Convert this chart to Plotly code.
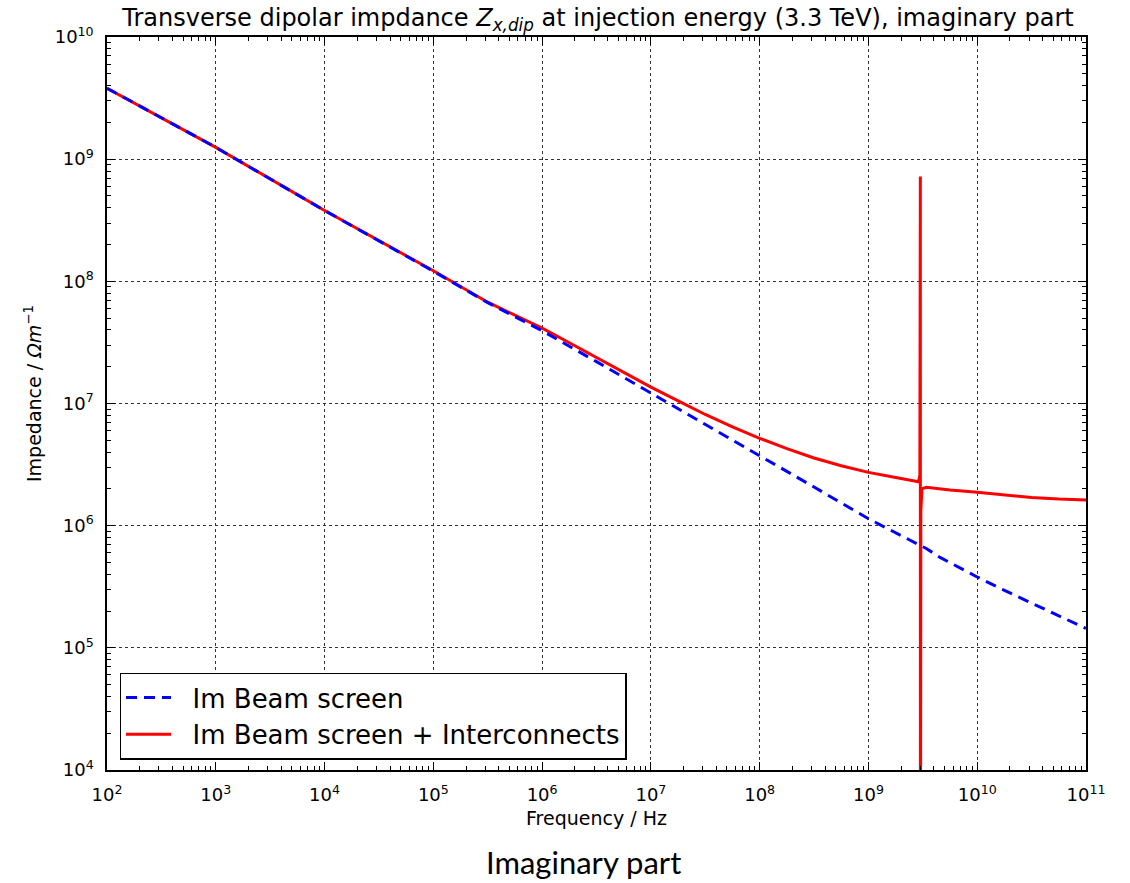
import plotly.graph_objects as go

# Frequencies (Hz) and imaginary impedance (Ohm/m)
freq_bs = [1e2, 1e3, 1e4, 1e5, 3.16e5, 1e6, 3.16e6, 1e7, 3.16e7, 1e8, 3.16e8,
           1e9, 3.4e9, 4.6e9, 1e10, 1.78e10, 3.16e10, 5.62e10, 1e11]
im_bs = [3.81e9, 1.25e9, 3.8e8, 1.21e8, 6.7e7, 3.94e7, 2.2e7, 1.22e7, 6.73e6,
         3.78e6, 2.07e6, 1.14e6, 6.5e5, 5.47e5, 3.8e5, 2.95e5, 2.32e5, 1.83e5, 1.44e5]

freq_ic = [1e2, 1e3, 1e4, 1e5, 3.16e5, 5.62e5, 1e6, 1.78e6, 3.16e6, 5.62e6,
           1e7, 1.78e7, 3.16e7, 5.62e7, 1e8, 1.78e8, 3.16e8, 5.62e8, 1e9,
           1.78e9, 2.63e9, 2.88e9, 2.97e9, 3.0e9, 3.005e9, 3.03e9, 3.1e9,
           3.4e9, 4.6e9, 5.62e9, 1e10, 1.78e10, 3.16e10, 5.62e10, 1e11]
im_ic = [3.81e9, 1.25e9, 3.8e8, 1.22e8, 6.75e7, 5.3e7, 4.14e7, 3.14e7, 2.38e7,
         1.8e7, 1.36e7, 1.05e7, 8.13e6, 6.45e6, 5.19e6, 4.27e6, 3.58e6, 3.09e6,
         2.73e6, 2.48e6, 2.3e6, 2.29e6, 2.6e6, 7.2e8, 1e2, 1.3e6, 2.0e6,
         2.06e6, 2.0e6, 1.96e6, 1.88e6, 1.78e6, 1.7e6, 1.65e6, 1.62e6]

series_names = ["Im Beam screen", "Im Beam screen + Interconnects"]

x_ticks = [1e2, 1e3, 1e4, 1e5, 1e6, 1e7, 1e8, 1e9, 1e10, 1e11]
x_labels = ["10<sup>%d</sup>" % e for e in range(2, 12)]
y_ticks = [1e4, 1e5, 1e6, 1e7, 1e8, 1e9, 1e10]
y_labels = ["10<sup>%d</sup>" % e for e in range(4, 11)]

x_minor = [m * 10 ** e for e in range(2, 11) for m in range(2, 10)]
y_minor = [m * 10 ** e for e in range(4, 10) for m in range(2, 10)]

FONT = "DejaVu Sans"
PAD = "\u00a0\u00a0"

fig = go.Figure()
fig.add_trace(go.Scatter(
    x=freq_ic, y=im_ic, mode="lines", name=PAD + series_names[1],
    line=dict(color="#ff0000", width=3), legendrank=2,
))
fig.add_trace(go.Scatter(
    x=freq_bs, y=im_bs, mode="lines", name=PAD + series_names[0],
    line=dict(color="#0000ff", width=3, dash="11px,7px"), legendrank=1,
))


def axis(tv, tt, rng, mv):
    return dict(
        type="log", range=rng,
        tickmode="array", tickvals=tv, ticktext=tt,
        showline=True, linecolor="black", linewidth=1.5, mirror="allticks",
        ticks="inside", ticklen=8, tickwidth=1, tickcolor="black",
        showgrid=True, gridcolor="#333333", gridwidth=1, griddash="dot",
        zeroline=False,
        tickfont=dict(family=FONT, size=18, color="black"),
        ticklabelstandoff=8,
        minor=dict(tickmode="array", tickvals=mv, ticks="inside", ticklen=4,
                   tickwidth=1, tickcolor="black", showgrid=False),
    )


fig.update_layout(
    width=1130, height=883,
    margin=dict(l=107, r=44, t=37, b=113),
    paper_bgcolor="white", plot_bgcolor="white",
    font=dict(family=FONT, color="black"),
    title=dict(
        text="Transverse dipolar impdance <i>Z<sub>x,dip</sub></i> at injection energy (3.3 TeV), imaginary part",
        x=(598 - 107) / 979, xref="paper", xanchor="center",
        y=1 - 18 / 883, yref="container", yanchor="middle",
        font=dict(family=FONT, size=24, color="black"),
    ),
    xaxis=axis(x_ticks, x_labels, [2, 11], x_minor),
    yaxis=axis(y_ticks, y_labels, [4, 10], y_minor),
    legend=dict(
        x=(119.5 - 107) / 979, y=(770 - 759.5) / 733, xanchor="left", yanchor="bottom",
        bordercolor="black", borderwidth=1.5, bgcolor="white",
        font=dict(family=FONT, size=26, color="black"),
        tracegroupgap=0, itemwidth=45,
    ),
    showlegend=True,
)

fig.add_annotation(
    text="Frequency / Hz", xref="paper", yref="paper",
    x=(596 - 107) / 979, y=-(818 - 770) / 733, xanchor="center", yanchor="middle",
    showarrow=False, font=dict(family=FONT, size=19, color="black"),
)
fig.add_annotation(
    text="Impedance / <i>Ωm</i><sup>−1</sup>", xref="paper", yref="paper",
    x=-(107 - 33) / 979, y=(770 - 394) / 733, xanchor="center", yanchor="middle",
    textangle=-90, showarrow=False, font=dict(family=FONT, size=19, color="black"),
)
fig.add_annotation(
    text="Imaginary part", xref="paper", yref="paper",
    x=(583 - 107) / 979, y=-(862 - 770) / 733, xanchor="center", yanchor="middle",
    showarrow=False, font=dict(family="Lato", size=31, color="black"),
)

fig.write_html("out.html")
